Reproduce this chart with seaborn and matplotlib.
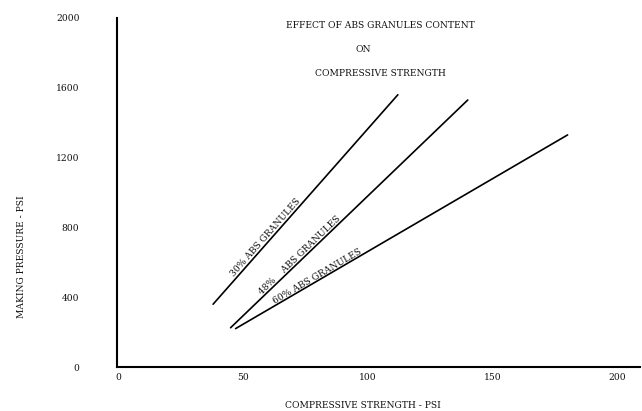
import matplotlib
matplotlib.use("Agg")
import matplotlib.pyplot as plt
import seaborn as sns
import numpy as np
import pandas as pd

# Data
series_names = ["30% ABS GRANULES", "48%    ABS GRANULES", "60% ABS GRANULES"]
x30 = [38, 112]
y30 = [360, 1560]
x48 = [45, 140]
y48 = [225, 1530]
x60 = [47, 180]
y60 = [220, 1330]
label_x = [47, 58, 63]

x_ticks = [0, 50, 100, 150, 200]
y_ticks = [0, 400, 800, 1200, 1600, 2000]

sns.set_theme(style="white")
plt.rcParams["font.family"] = ["DejaVu Serif"]
FS = 6.6

fig = plt.figure(figsize=(6.42, 4.11), dpi=100)
ax = fig.add_axes([117/642, 1-367/411, (640-117)/642, (367-18)/411])

df = pd.concat([
    pd.DataFrame({"x": x30, "y": y30, "s": series_names[0]}),
    pd.DataFrame({"x": x48, "y": y48, "s": series_names[1]}),
    pd.DataFrame({"x": x60, "y": y60, "s": series_names[2]}),
])
sns.lineplot(data=df, x="x", y="y", hue="s", palette=["black"]*3,
             linewidth=1.2, legend=False, ax=ax, estimator=None)

ax.set_xlim(-0.5, 209)
ax.set_ylim(0, 2000)
ax.set_xticks(x_ticks)
ax.set_yticks(y_ticks)
ax.tick_params(axis="y", length=0, pad=27, labelsize=FS, labelcolor="#111111")
ax.tick_params(axis="x", length=0, pad=4, labelsize=FS, labelcolor="#111111")
for s in ["top", "right"]:
    ax.spines[s].set_visible(False)
ax.spines["left"].set_linewidth(1.5)
ax.spines["bottom"].set_linewidth(1.5)
ax.spines["left"].set_color("black")
ax.spines["bottom"].set_color("black")
ax.set_xlabel("COMPRESSIVE STRENGTH - PSI", fontsize=FS, color="#111111")
ax.set_ylabel("MAKING PRESSURE - PSI", fontsize=FS, color="#111111")
ax.xaxis.set_label_coords((363-117)/523, -(405-367)/349)
ax.yaxis.set_label_coords(-(117-22)/523, (367-257)/349)
ax.xaxis.label.set_va("center")
ax.yaxis.label.set_va("center")

fig.canvas.draw()
for (xs, ys), name, lx in zip([(x30, y30), (x48, y48), (x60, y60)], series_names, label_x):
    p0 = ax.transData.transform((xs[0], ys[0]))
    p1 = ax.transData.transform((xs[1], ys[1]))
    ang = np.degrees(np.arctan2(p1[1]-p0[1], p1[0]-p0[0]))
    ly = np.interp(lx, xs, ys)
    ax.text(lx, ly, name, rotation=ang, rotation_mode="anchor", ha="left", va="bottom",
            fontsize=FS, color="#111111")

fig.text(380/642, 1-25/411, "EFFECT OF ABS GRANULES CONTENT", ha="center", va="center", fontsize=FS, color="#111111")
fig.text(363/642, 1-50/411, "ON", ha="center", va="center", fontsize=FS, color="#111111")
fig.text(380/642, 1-74/411, "COMPRESSIVE STRENGTH", ha="center", va="center", fontsize=FS, color="#111111")

fig.savefig("out.png", dpi=100, facecolor="white")
